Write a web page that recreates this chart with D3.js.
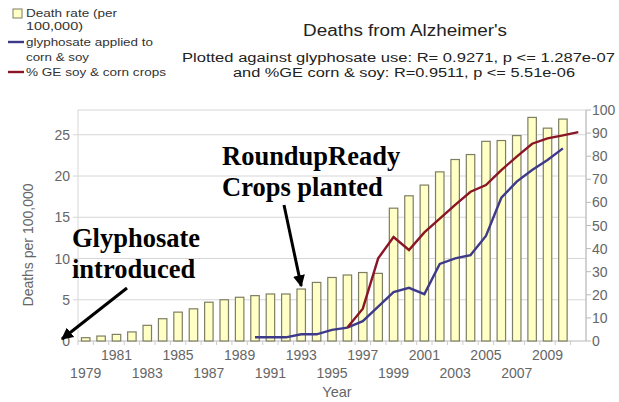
<!DOCTYPE html>
<html>
<head>
<meta charset="utf-8">
<script src="https://cdn.jsdelivr.net/npm/d3@7"></script>
<style>
  body { margin: 0; background: #fff; }
  svg { display: block; font-family: "Liberation Sans", Arial, sans-serif; }
</style>
</head>
<body>
<script>
const W = 619, H = 402;

// years on the category axis (2011 has no bar, only the GE line)
const years = d3.range(1979, 2012);
const deathYears = d3.range(1979, 2011);
const deathRate = [0.4, 0.6, 0.8, 1.1, 1.9, 2.7, 3.5, 3.9, 4.7, 5.0, 5.3, 5.5, 5.7, 5.7,
  6.3, 7.1, 7.7, 8.0, 8.3, 8.2, 16.1, 17.6, 18.9, 20.5, 22.0, 22.6, 24.2, 24.3, 24.9, 27.1, 25.8, 26.9];
const glyYears = d3.range(1990, 2011);
const glyphosate = [1.6, 1.6, 1.6, 2.9, 2.9, 4.8, 5.8, 8.6, 14.9, 21.2, 23.0, 20.3, 33.4,
  35.8, 37.2, 45.5, 62.0, 69.0, 74.0, 78.4, 83.4];
const geYears = d3.range(1996, 2012);
const geCrops = [5.8, 14.0, 35.8, 45.0, 39.4, 47.0, 53.0, 58.9, 64.6, 67.5, 74.0, 79.8, 85.4, 87.7, 89.0, 90.4];
const leftTicks = [0, 5, 10, 15, 20, 25];
const rightTicks = [0, 10, 20, 30, 40, 50, 60, 70, 80, 90, 100];

const svg = d3.select("body").append("svg")
    .attr("width", W).attr("height", H);

const defs = svg.append("defs");
defs.append("marker")
    .attr("id", "arrow")
    .attr("viewBox", "0 0 10 10")
    .attr("refX", 9).attr("refY", 5)
    .attr("markerWidth", 4).attr("markerHeight", 4)
    .attr("orient", "auto")
  .append("path")
    .attr("d", "M0,0L10,5L0,10z")
    .attr("fill", "#000");

const x = d3.scaleBand().domain(years).range([78, 586])
    .paddingInner(0.45).paddingOuter(0.225);
const yL = d3.scaleLinear().domain([0, 28]).range([341, 110]);
const yR = d3.scaleLinear().domain([0, 100]).range([341, 110]);
const cx = d => x(d) + x.bandwidth() / 2;

// text that is a bit wider than the font gives (the original is stretched)
function wideText(g, tx, ty, str, len, anchor) {
  return g.append("text").attr("x", tx).attr("y", ty)
      .attr("text-anchor", anchor || "start")
      .attr("textLength", len).attr("lengthAdjust", "spacingAndGlyphs")
      .text(str);
}

// plot frame + grid
svg.append("rect")
    .attr("x", 78).attr("y", 110).attr("width", 508).attr("height", 231)
    .attr("fill", "none").attr("stroke", "#d8d8d8");

svg.append("g").selectAll("line")
  .data(leftTicks.slice(1))
  .join("line")
    .attr("x1", 73).attr("x2", 586)
    .attr("y1", d => yL(d)).attr("y2", d => yL(d))
    .attr("stroke", "#d6d6d6");

// left axis labels
svg.append("g").selectAll("text")
  .data(leftTicks)
  .join("text")
    .attr("x", 70).attr("y", d => yL(d) + 5)
    .attr("text-anchor", "end")
    .attr("font-size", 14).attr("fill", "#666")
    .text(d => d);

// right axis
svg.append("line").attr("x1", 586).attr("x2", 586).attr("y1", 110).attr("y2", 341)
    .attr("stroke", "#bbb");
const gR = svg.append("g");
gR.selectAll("line").data(rightTicks).join("line")
    .attr("x1", 586).attr("x2", 591)
    .attr("y1", d => yR(d)).attr("y2", d => yR(d))
    .attr("stroke", "#bbb");
gR.selectAll("text").data(rightTicks).join("text")
    .attr("x", 592).attr("y", d => yR(d) + 5)
    .attr("font-size", 14).attr("fill", "#666")
    .text(d => d);

// x axis
svg.append("line").attr("x1", 78).attr("x2", 586).attr("y1", 341).attr("y2", 341)
    .attr("stroke", "#ccc");
svg.append("g").selectAll("line")
  .data(years)
  .join("line")
    .attr("x1", d => x(d) - x.step() * x.paddingInner() / 2)
    .attr("x2", d => x(d) - x.step() * x.paddingInner() / 2)
    .attr("y1", 341).attr("y2", 345)
    .attr("stroke", "#ccc");
svg.append("g").selectAll("text")
  .data(years.filter(d => d % 2 === 1 && d < 2011))
  .join("text")
    .attr("x", d => cx(d))
    .attr("y", d => ((d - 1979) % 4 === 0) ? 378 : 360)
    .attr("text-anchor", "middle")
    .attr("font-size", 14).attr("fill", "#666")
    .text(d => d);

svg.append("text").attr("x", 337).attr("y", 397)
    .attr("text-anchor", "middle").attr("font-size", 14.5).attr("fill", "#666")
    .text("Year");
svg.append("text")
    .attr("transform", "translate(33,245) rotate(-90)")
    .attr("text-anchor", "middle").attr("font-size", 14).attr("fill", "#666")
    .text("Deaths per 100,000");

// bars
svg.append("g").selectAll("rect")
  .data(deathYears)
  .join("rect")
    .attr("x", d => x(d))
    .attr("width", x.bandwidth())
    .attr("y", (d, i) => yL(deathRate[i]))
    .attr("height", (d, i) => 341 - yL(deathRate[i]))
    .attr("fill", "#ffffc6")
    .attr("stroke", "#7e7e62")
    .attr("stroke-width", 1.2);

// lines
const line = d3.line().x(d => cx(d[0])).y(d => yR(d[1]));
svg.append("path")
    .datum(glyYears.map((d, i) => [d, glyphosate[i]]))
    .attr("d", line)
    .attr("fill", "none").attr("stroke", "#3e3a8a").attr("stroke-width", 2.4);
svg.append("path")
    .datum(geYears.map((d, i) => [d, geCrops[i]]))
    .attr("d", line)
    .attr("fill", "none").attr("stroke", "#8a1525").attr("stroke-width", 2.4);

// titles
const tg = svg.append("g").attr("fill", "#222");
wideText(tg, 303, 36, "Deaths from Alzheimer's", 204).attr("font-size", 16);
wideText(tg, 182, 62, "Plotted against glyphosate use: R= 0.9271, p <= 1.287e-07", 433).attr("font-size", 12);
wideText(tg, 233, 76.5, "and %GE corn & soy: R=0.9511, p <= 5.51e-06", 342).attr("font-size", 12);

// legend
const lg = svg.append("g").attr("font-size", 11).attr("fill", "#333");
lg.append("rect").attr("x", 13).attr("y", 9).attr("width", 9).attr("height", 9)
    .attr("fill", "#ffffc6").attr("stroke", "#7e7e62");
wideText(lg, 26, 17, "Death rate (per", 91);
wideText(lg, 26, 30, "100,000)", 57);
lg.append("line").attr("x1", 8).attr("x2", 24).attr("y1", 42).attr("y2", 42)
    .attr("stroke", "#3e3a8a").attr("stroke-width", 2.4);
wideText(lg, 26, 46, "glyphosate applied to", 127);
wideText(lg, 26, 61, "corn & soy", 63);
lg.append("line").attr("x1", 8).attr("x2", 24).attr("y1", 72).attr("y2", 72)
    .attr("stroke", "#8a1525").attr("stroke-width", 2.4);
wideText(lg, 26, 76, "% GE soy & corn crops", 140);

// annotations
const ann = svg.append("g")
    .attr("font-family", "'Liberation Serif', 'Times New Roman', serif")
    .attr("font-weight", "bold").attr("font-size", 26.5).attr("fill", "#000");
ann.append("text").attr("x", 222).attr("y", 165).text("RoundupReady");
ann.append("text").attr("x", 222).attr("y", 196).text("Crops planted");
ann.append("text").attr("x", 72).attr("y", 247).text("Glyphosate");
ann.append("text").attr("x", 72).attr("y", 278).text("introduced");

svg.append("line")
    .attr("x1", 127).attr("y1", 288)
    .attr("x2", 62).attr("y2", yL(0) - 2)
    .attr("stroke", "#000").attr("stroke-width", 3)
    .attr("marker-end", "url(#arrow)");
svg.append("line")
    .attr("x1", 284).attr("y1", 205)
    .attr("x2", cx(1993)).attr("y2", yL(deathRate[1993 - 1979]) - 3)
    .attr("stroke", "#000").attr("stroke-width", 3)
    .attr("marker-end", "url(#arrow)");
</script>
</body>
</html>
